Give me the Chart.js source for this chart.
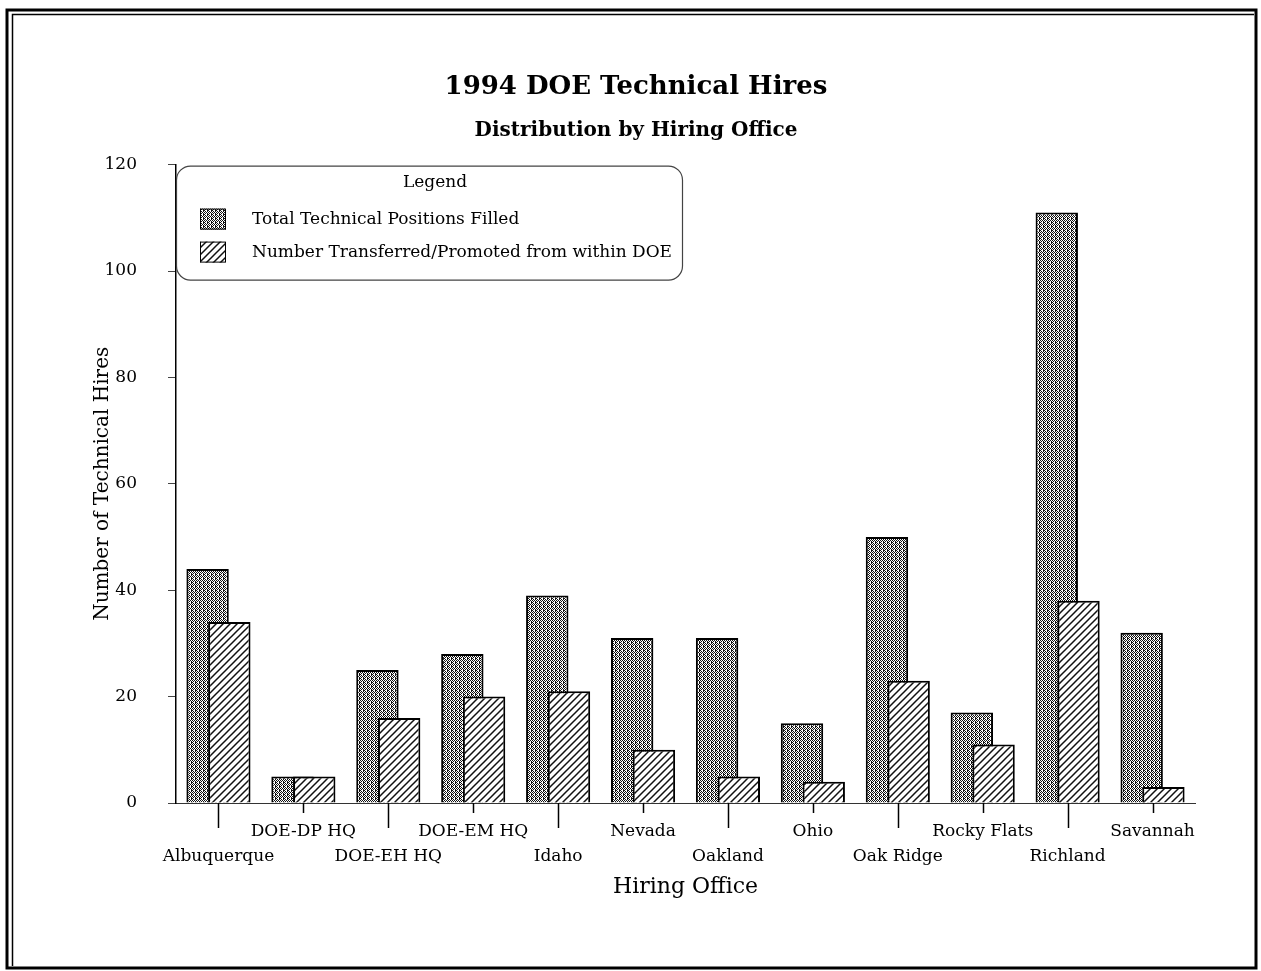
<!DOCTYPE html>
<html>
<head>
<meta charset="utf-8">
<title>1994 DOE Technical Hires</title>
<script src="https://cdn.jsdelivr.net/npm/chart.js@4.4.1/dist/chart.umd.min.js"></script>
<style>
  html, body { margin: 0; padding: 0; background: #fff; }
</style>
</head>
<body>
<canvas id="hiresChart" width="1261" height="971"></canvas>
<script>
// Data
const offices = ['Albuquerque', 'DOE-DP HQ', 'DOE-EH HQ', 'DOE-EM HQ', 'Idaho', 'Nevada',
    'Oakland', 'Ohio', 'Oak Ridge', 'Rocky Flats', 'Richland', 'Savannah'];
const totalFilled = [44, 5, 25, 28, 39, 31, 31, 15, 50, 17, 111, 32];
const transferred = [34, 5, 16, 20, 21, 10, 5, 4, 23, 11, 38, 3];
const seriesNames = ['Total Technical Positions Filled', 'Number Transferred/Promoted from within DOE'];
const yTicks = [0, 20, 40, 60, 80, 100, 120];

const SERIF = '"DejaVu Serif", "Liberation Serif", serif';
const canvas = document.getElementById('hiresChart');
const ctx = canvas.getContext('2d');

// Fill patterns (stipple for totals, diagonal hatch for transfers)
function makeStipple() {
    const c = document.createElement('canvas');
    c.width = 4; c.height = 4;
    const g = c.getContext('2d');
    g.fillStyle = '#fff';
    g.fillRect(0, 0, 4, 4);
    g.fillStyle = '#111';
    for (let y = 0; y < 4; y++) {
        for (let x = 0; x < 4; x++) {
            if ((x + y) % 2 === 0 && !(x === 2 && y === 2)) g.fillRect(x, y, 1, 1);
        }
    }
    g.fillRect(3, 2, 1, 1);
    return ctx.createPattern(c, 'repeat');
}

function makeHatch() {
    const s = 7;
    const c = document.createElement('canvas');
    c.width = s; c.height = s;
    const g = c.getContext('2d');
    g.fillStyle = '#fff';
    g.fillRect(0, 0, s, s);
    g.strokeStyle = '#111';
    g.lineWidth = 1.5;
    g.beginPath();
    g.moveTo(-1, s + 1); g.lineTo(s + 1, -1);
    g.moveTo(-1, 1); g.lineTo(1, -1);
    g.moveTo(s - 1, s + 1); g.lineTo(s + 1, s - 1);
    g.stroke();
    return ctx.createPattern(c, 'repeat');
}

// Page frame (double rule like the scan)
const framePlugin = {
    id: 'frame',
    afterDraw(chart) {
        const c = chart.ctx;
        c.save();
        c.strokeStyle = '#000';
        c.lineWidth = 3;
        c.strokeRect(7, 10, 1249, 958);
        c.lineWidth = 1.5;
        c.beginPath();
        c.moveTo(12.5, 966); c.lineTo(12.5, 14.5); c.lineTo(1254, 14.5);
        c.stroke();
        c.restore();
    }
};

// Hatched series sits on top of the stippled one
const drawOrderPlugin = {
    id: 'drawOrder',
    beforeDatasetDraw(chart, args) {
        if (args.index === 1 && !chart.$lateDraw) return false;
    },
    afterDatasetsDraw(chart) {
        chart.$lateDraw = true;
        chart.getDatasetMeta(1).controller.draw();
        chart.$lateDraw = false;
    }
};

// Alternating long/short tick marks under the category axis
const xTickPlugin = {
    id: 'xTicks',
    afterDraw(chart) {
        const sc = chart.scales.x;
        const c = chart.ctx;
        c.save();
        c.strokeStyle = '#000';
        c.lineWidth = 1.5;
        sc.ticks.forEach((t, i) => {
            const x = Math.round(sc.getPixelForTick(i)) + 0.5;
            c.beginPath();
            c.moveTo(x, sc.top);
            c.lineTo(x, sc.top + (i % 2 === 0 ? 25 : 10));
            c.stroke();
        });
        c.restore();
    }
};

// Boxed legend inside the plot area
const legendBoxPlugin = {
    id: 'legendBox',
    afterDraw(chart) {
        const c = chart.ctx;
        const L = chart.chartArea.left, T = chart.chartArea.top;
        const w = 506, h = 114;
        c.save();
        c.strokeStyle = '#444';
        c.lineWidth = 1.2;
        c.beginPath();
        c.roundRect(L + 0.5, T + 1.5, w, h, 14);
        c.stroke();
        c.fillStyle = '#000';
        c.font = '17px ' + SERIF;
        c.textAlign = 'center';
        c.textBaseline = 'middle';
        c.fillText('Legend', L + w / 2 + 6, T + 18);
        c.textAlign = 'left';
        chart.data.datasets.forEach((ds, i) => {
            const sy = T + 44 + i * 33;
            c.fillStyle = ds.backgroundColor;
            c.fillRect(L + 24, sy, 26, 21);
            c.strokeStyle = '#000';
            c.lineWidth = 1;
            c.strokeRect(L + 24.5, sy + 0.5, 25, 20);
            c.fillStyle = '#000';
            c.fillText(ds.label, L + 76, sy + 11);
        });
        c.restore();
    }
};

const chart = new Chart(ctx, {
    type: 'bar',
    data: {
        labels: offices,
        datasets: [{
            label: seriesNames[0],
            data: totalFilled,
            backgroundColor: makeStipple(),
            borderColor: '#000',
            borderWidth: 2
        }, {
            label: seriesNames[1],
            data: transferred,
            backgroundColor: makeHatch(),
            borderColor: '#000',
            borderWidth: 2
        }]
    },
    options: {
        responsive: false,
        animation: false,
        devicePixelRatio: 1,
        layout: {padding: {top: 0, left: 77, right: 66, bottom: 0}},
        datasets: {
            bar: {categoryPercentage: 0.512, barPercentage: 1.95}
        },
        plugins: {
            legend: {display: false},
            tooltip: {enabled: false},
            title: {
                display: true,
                text: '1994 DOE Technical Hires',
                color: '#000',
                font: {family: SERIF, size: 26, weight: 'bold', lineHeight: 1.2},
                padding: {top: 72, bottom: 0}
            },
            subtitle: {
                display: true,
                text: 'Distribution by Hiring Office',
                color: '#000',
                font: {family: SERIF, size: 20, weight: 'bold', lineHeight: 1.2},
                padding: {top: 15.4, bottom: 22}
            }
        },
        scales: {
            x: {
                grid: {display: false, drawTicks: false},
                border: {display: true, color: '#333', width: 1},
                ticks: {
                    autoSkip: false,
                    maxRotation: 0,
                    padding: 16.5,
                    color: '#000',
                    font: {family: SERIF, size: 17, lineHeight: 1.47},
                    callback: function (v, i) {
                        const name = this.getLabelForValue(v);
                        return i % 2 === 0 ? ['', name] : name;
                    }
                },
                title: {
                    display: true,
                    text: 'Hiring Office',
                    color: '#000',
                    font: {family: SERIF, size: 22, lineHeight: 1.2},
                    padding: {top: 0, bottom: 71}
                },
                afterFit: (s) => { s.height = 168; }
            },
            y: {
                min: yTicks[0],
                max: yTicks[yTicks.length - 1],
                ticks: {
                    stepSize: yTicks[1] - yTicks[0],
                    padding: 31,
                    color: '#000',
                    font: {family: SERIF, size: 17}
                },
                grid: {drawOnChartArea: false, drawTicks: true, tickLength: 8, tickColor: '#444', tickWidth: 1},
                border: {display: true, color: '#000', width: 1.5},
                title: {
                    display: true,
                    text: 'Number of Technical Hires',
                    color: '#000',
                    font: {family: SERIF, size: 20, lineHeight: 1.2},
                    padding: {top: 14, bottom: 0}
                },
                afterFit: (s) => { s.width = 99; }
            }
        }
    },
    plugins: [drawOrderPlugin, xTickPlugin, legendBoxPlugin, framePlugin]
});
</script>
</body>
</html>
